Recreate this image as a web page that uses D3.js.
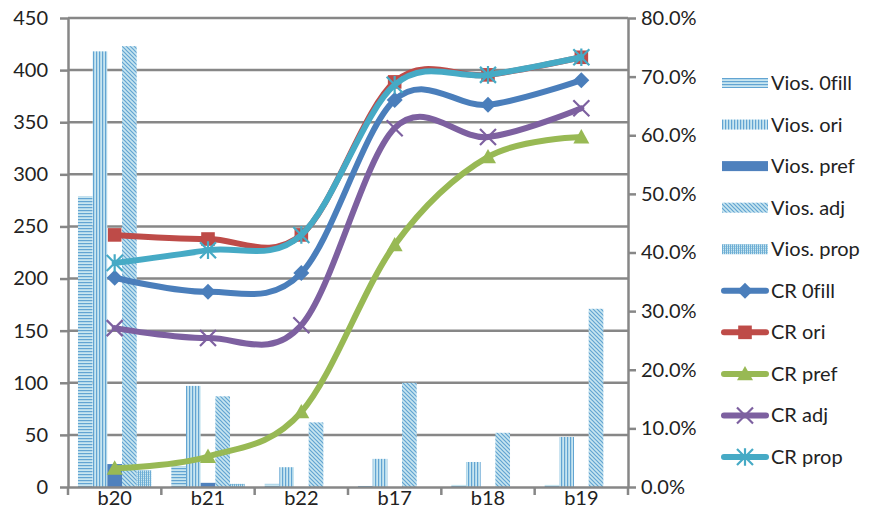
<!DOCTYPE html>
<html>
<head>
<meta charset="utf-8">
<script src="https://cdn.jsdelivr.net/npm/d3@7"></script>
<style>
  html, body { margin: 0; padding: 0; background: #fff; }
  svg { display: block; font-family: Lato, "Open Sans", sans-serif; font-variant-ligatures: none; }
  svg text { font-variant-ligatures: none; font-feature-settings: "liga" 0; }
</style>
</head>
<body>
<svg id="chart" width="869" height="530"></svg>
<script>
// Categories and series
const categories = ["b20", "b21", "b22", "b17", "b18", "b19"];

const viosNames = ["Vios. 0fill", "Vios. ori", "Vios. pref", "Vios. adj", "Vios. prop"];
const vios0fill = [279, 20, 3, 1, 2, 2];
const viosOri   = [418, 97, 19, 27, 24, 48];
const viosPref  = [22, 4, 0, 0, 0, 0];
const viosAdj   = [423, 87, 62, 100, 52, 171];
const viosProp  = [16, 3, 0, 0, 0, 0];

const crNames = ["CR 0fill", "CR ori", "CR pref", "CR adj", "CR prop"];
const cr0fill = [0.357, 0.333, 0.365, 0.660, 0.652, 0.694];
const crOri   = [0.430, 0.423, 0.430, 0.691, 0.703, 0.733];
const crPref  = [0.032, 0.052, 0.128, 0.413, 0.563, 0.597];
const crAdj   = [0.271, 0.254, 0.276, 0.612, 0.597, 0.646];
const crProp  = [0.382, 0.404, 0.430, 0.686, 0.703, 0.733];

const leftTicks  = [0, 50, 100, 150, 200, 250, 300, 350, 400, 450];
const rightTicks = [0, 0.1, 0.2, 0.3, 0.4, 0.5, 0.6, 0.7, 0.8];

const barSeries = [vios0fill, viosOri, viosPref, viosAdj, viosProp];
const lineSeries = [cr0fill, crOri, crPref, crAdj, crProp];

const barFills = ["url(#p0fill)", "url(#pOri)", "#4f81bd", "url(#pAdj)", "url(#pProp)"];
const lineColors = ["#4a7ebb", "#be4b48", "#98b954", "#7d60a0", "#46aac5"];
const markerTypes = ["diamond", "square", "triangle", "x", "star"];

const svg = d3.select("#chart");
const gridColor = "#878787";
const fontSize = "20px";

// Hatch patterns for the bar series
const defs = svg.append("defs");
function pattern(id, w, h, draw) {
  const p = defs.append("pattern").attr("id", id).attr("patternUnits", "userSpaceOnUse")
    .attr("width", w).attr("height", h);
  p.append("rect").attr("width", w).attr("height", h).attr("fill", "#c8e6f0");
  draw(p);
}
pattern("p0fill", 4, 3, p => p.append("rect").attr("y", 0).attr("width", 4).attr("height", 1.2).attr("fill", "#62a4d2"));
pattern("pOri", 3, 4, p => p.append("rect").attr("x", 0).attr("width", 1.2).attr("height", 4).attr("fill", "#62a4d2"));
pattern("pAdj", 4, 4, p => {
  p.append("path").attr("d", "M-1,-1 L5,5 M-1,3 L1,5 M3,-1 L5,1").attr("stroke", "#62a4d2").attr("stroke-width", 1.2);
});
pattern("pProp", 2, 2, p => {
  p.append("rect").attr("x", 0).attr("y", 0).attr("width", 1).attr("height", 2).attr("fill", "#6eadd5");
  p.append("rect").attr("x", 1).attr("y", 0).attr("width", 1).attr("height", 1).attr("fill", "#a0cee2");
});

// Scales
const x = d3.scaleBand().domain(categories).range([68, 628]).padding(0);
const xInner = d3.scaleBand().domain(d3.range(5)).range([0, x.bandwidth()]).paddingInner(0).paddingOuter(0.68);
const yL = d3.scaleLinear().domain([0, 450]).range([487, 18]);
const yR = d3.scaleLinear().domain([0, 0.8]).range([487, 18]);

// Gridlines
svg.append("g").selectAll("line").data(leftTicks.filter(d => d > 0)).join("line")
  .attr("x1", 68).attr("x2", 628).attr("y1", d => yL(d)).attr("y2", d => yL(d))
  .attr("stroke", gridColor).attr("stroke-width", 2.5);

// Bars
barSeries.forEach((vals, si) => {
  svg.append("g").selectAll("rect").data(vals).join("rect")
    .attr("x", (d, i) => x(categories[i]) + xInner(si))
    .attr("width", xInner.bandwidth())
    .attr("y", d => yL(d))
    .attr("height", d => yL(0) - yL(d))
    .attr("fill", barFills[si]);
});

// Axes
const axisStyle = g => {
  g.select(".domain").attr("stroke", gridColor).attr("stroke-width", 2.5);
  g.selectAll(".tick line").attr("stroke", gridColor).attr("stroke-width", 2.5);
  g.selectAll("text").attr("fill", "#222").style("font-size", fontSize).style("font-family", "Lato, 'Open Sans', sans-serif");
};
svg.append("g").attr("transform", "translate(68,0)")
  .call(d3.axisLeft(yL).tickValues(leftTicks).tickSize(8).tickSizeOuter(0).tickPadding(12))
  .call(axisStyle);
svg.append("g").attr("transform", "translate(628,0)")
  .call(d3.axisRight(yR).tickValues(rightTicks).tickSize(8).tickSizeOuter(0).tickPadding(5).tickFormat(d3.format(".1%")))
  .call(axisStyle);
const xAxis = svg.append("g").attr("transform", "translate(0,487)")
  .call(d3.axisBottom(x).tickSize(0).tickPadding(4))
  .call(axisStyle);
// Category boundary ticks
xAxis.append("g").selectAll("line").data(d3.range(categories.length + 1)).join("line")
  .attr("x1", i => 68 + i * x.bandwidth()).attr("x2", i => 68 + i * x.bandwidth())
  .attr("y1", 0).attr("y2", 8).attr("stroke", gridColor).attr("stroke-width", 2.5);

// Markers
function drawMarker(g, type, color, cx, cy, s) {
  if (type === "diamond") {
    g.append("path").attr("d", `M${cx},${cy - s} L${cx + s},${cy} L${cx},${cy + s} L${cx - s},${cy} Z`).attr("fill", color);
  } else if (type === "square") {
    g.append("rect").attr("x", cx - s * 0.85).attr("y", cy - s * 0.85).attr("width", s * 1.7).attr("height", s * 1.7).attr("fill", color);
  } else if (type === "triangle") {
    g.append("path").attr("d", `M${cx},${cy - s} L${cx + s},${cy + s * 0.8} L${cx - s},${cy + s * 0.8} Z`).attr("fill", color);
  } else if (type === "x") {
    g.append("path").attr("d", `M${cx - s},${cy - s} L${cx + s},${cy + s} M${cx - s},${cy + s} L${cx + s},${cy - s}`)
      .attr("stroke", color).attr("stroke-width", 2.2);
  } else if (type === "star") {
    g.append("path").attr("d", `M${cx - s},${cy - s} L${cx + s},${cy + s} M${cx - s},${cy + s} L${cx + s},${cy - s} M${cx},${cy - s * 1.1} L${cx},${cy + s * 1.1}`)
      .attr("stroke", color).attr("stroke-width", 2.2);
  }
}

// Smoothed lines
const line = d3.line()
  .x((d, i) => x(categories[i]) + x.bandwidth() / 2)
  .y(d => yR(d))
  .curve(d3.curveCatmullRom.alpha(0));

lineSeries.forEach((vals, si) => {
  const g = svg.append("g");
  g.append("path").datum(vals).attr("d", line)
    .attr("fill", "none").attr("stroke", lineColors[si]).attr("stroke-width", 6).attr("stroke-linecap", "round");
  vals.forEach((v, i) => {
    drawMarker(g, markerTypes[si], lineColors[si], x(categories[i]) + x.bandwidth() / 2, yR(v), 8);
  });
});

// Legend
const legend = svg.append("g").attr("transform", "translate(722,0)");
const rowY = d3.scalePoint().domain(d3.range(10)).range([83, 457]);
viosNames.forEach((name, i) => {
  const y = rowY(i);
  legend.append("rect").attr("x", 0).attr("y", y - 5).attr("width", 46).attr("height", 10).attr("fill", barFills[i]);
  legend.append("text").attr("x", 49).attr("y", y).attr("dy", "0.35em").text(name)
    .style("font-size", fontSize).attr("fill", "#222");
});
crNames.forEach((name, i) => {
  const y = rowY(i + 5);
  const g = legend.append("g");
  g.append("line").attr("x1", 2).attr("x2", 44).attr("y1", y).attr("y2", y)
    .attr("stroke", lineColors[i]).attr("stroke-width", 6).attr("stroke-linecap", "round");
  drawMarker(g, markerTypes[i], lineColors[i], 23, y, 8);
  legend.append("text").attr("x", 49).attr("y", y).attr("dy", "0.35em").text(name)
    .style("font-size", fontSize).attr("fill", "#222");
});
</script>
</body>
</html>
